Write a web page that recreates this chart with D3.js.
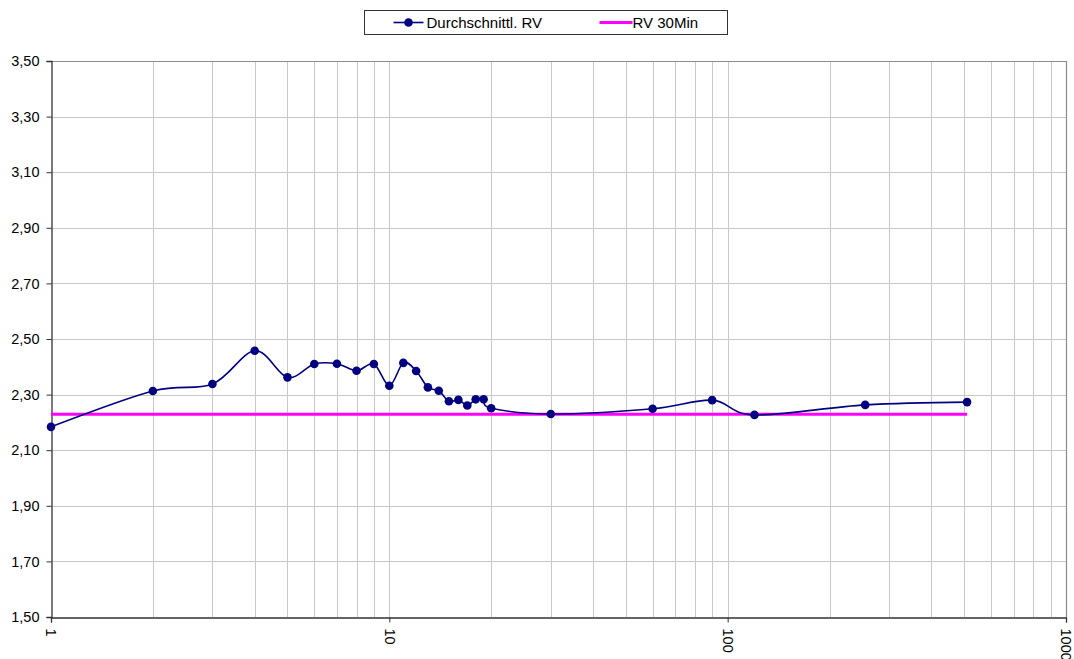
<!DOCTYPE html>
<html>
<head>
<meta charset="utf-8">
<script src="https://cdn.jsdelivr.net/npm/d3@7"></script>
<style>
  html, body { margin: 0; padding: 0; background: #fff; }
  svg { display: block; font-family: "Liberation Sans", Arial, sans-serif; }
</style>
</head>
<body>
<div id="chart"></div>
<script>
// x values (minutes, log axis) and average RV
const xValues = [1, 2, 3, 4, 5, 6, 7, 8, 9, 10, 11, 12, 13, 14, 15, 16, 17, 18, 19, 20, 30, 60, 90, 120, 255, 510];
const rvAvg = [2.184, 2.313, 2.338, 2.458, 2.362, 2.410, 2.411, 2.386, 2.410, 2.332, 2.414, 2.385, 2.326, 2.314,
               2.276, 2.281, 2.261, 2.283, 2.283, 2.251, 2.230, 2.249, 2.280, 2.227, 2.263, 2.273];
const rv30Min = 2.229;
const yTicks = [1.5, 1.7, 1.9, 2.1, 2.3, 2.5, 2.7, 2.9, 3.1, 3.3, 3.5];
const xTicks = [1, 10, 100, 1000];
const seriesNames = ["Durchschnittl. RV", "RV 30Min"];

const W = 1074, H = 659;
const margin = { top: 61, left: 51 };

const svg = d3.select("#chart").append("svg")
  .attr("width", W).attr("height", H);

const g = svg.append("g").attr("transform", `translate(${margin.left},${margin.top})`);

const x = d3.scaleLog().domain([1, 1000]).range([0, 1015]);
const y = d3.scaleLinear().domain([1.5, 3.5]).range([556, 0]);

/* Gridlines */
const minor = [];
for (let d = 1; d < 1000; d *= 10) for (let k = 1; k <= 9; k++) if (d * k > 1) minor.push(d * k);
g.append("g").selectAll("line").data(minor).enter().append("line")
  .attr("x1", d => Math.round(x(d)) + 0.5).attr("x2", d => Math.round(x(d)) + 0.5)
  .attr("y1", 0).attr("y2", y(1.5))
  .attr("stroke", "#c8c8c8").attr("stroke-width", 1);
g.append("g").selectAll("line").data(yTicks.slice(1, -1)).enter().append("line")
  .attr("x1", 0).attr("x2", x(1000))
  .attr("y1", d => Math.round(y(d)) + 0.5).attr("y2", d => Math.round(y(d)) + 0.5)
  .attr("stroke", "#c8c8c8").attr("stroke-width", 1);

/* Plot border top/right */
g.append("line").attr("x1", 0).attr("x2", x(1000)).attr("y1", 0.5).attr("y2", 0.5)
  .attr("stroke", "#8c8c8c").attr("stroke-width", 1.2);
g.append("line").attr("x1", Math.round(x(1000)) + 0.5).attr("x2", Math.round(x(1000)) + 0.5)
  .attr("y1", 0).attr("y2", y(1.5))
  .attr("stroke", "#8c8c8c").attr("stroke-width", 1.2);

/* Axes */
const yAxis = g.append("g").attr("transform", "translate(0.5,0)")
  .call(d3.axisLeft(y).tickValues(yTicks).tickSize(5).tickPadding(7)
    .tickFormat(d => d3.format(".2f")(d).replace(".", ",")));
yAxis.select(".domain").attr("stroke", "#333").attr("stroke-width", 1.3);
yAxis.selectAll(".tick line").attr("stroke", "#333");
yAxis.selectAll("text").style("font-size", "14.5px").style("fill", "#000")
  .attr("font-family", "'Liberation Sans', Arial, sans-serif");

const xAxis = g.append("g").attr("transform", `translate(0,${y(1.5) + 0.5})`)
  .call(d3.axisBottom(x).tickValues(xTicks).tickSize(5).tickFormat(d3.format("d")));
xAxis.select(".domain").attr("stroke", "#333").attr("stroke-width", 1.3);
xAxis.selectAll(".tick line").attr("stroke", "#333");
xAxis.selectAll("text")
  .attr("y", 0).attr("dy", "0.35em")
  .attr("transform", "translate(0,11) rotate(90)")
  .attr("text-anchor", "start")
  .attr("font-family", "'Liberation Sans', Arial, sans-serif")
  .style("font-size", "14.5px").style("fill", "#000");

/* RV 30Min reference line */
g.append("line")
  .attr("x1", x(xValues[0])).attr("x2", x(xValues[xValues.length - 1]))
  .attr("y1", y(rv30Min)).attr("y2", y(rv30Min))
  .attr("stroke", "#ff00ff").attr("stroke-width", 3);

/* Average RV smoothed line */
const data = xValues.map((v, i) => ({ x: v, y: rvAvg[i] }));
const line = d3.line().x(d => x(d.x)).y(d => y(d.y)).curve(d3.curveCatmullRom.alpha(0));
g.append("path").datum(data)
  .attr("fill", "none").attr("stroke", "#000080").attr("stroke-width", 1.6)
  .attr("d", line);
g.append("g").selectAll("circle").data(data).enter().append("circle")
  .attr("cx", d => x(d.x)).attr("cy", d => y(d.y))
  .attr("r", 4.3).attr("fill", "#000080");

/* Legend */
const legend = svg.append("g").attr("transform", "translate(364.5,10.5)");
legend.append("rect").attr("width", 363).attr("height", 24)
  .attr("fill", "#fff").attr("stroke", "#333").attr("stroke-width", 1);
legend.append("line").attr("x1", 29).attr("x2", 59).attr("y1", 12).attr("y2", 12)
  .attr("stroke", "#000080").attr("stroke-width", 1.6);
legend.append("circle").attr("cx", 44).attr("cy", 12).attr("r", 4.3).attr("fill", "#000080");
legend.append("text").attr("x", 62).attr("y", 17.5).style("font-size", "15px").text(seriesNames[0]);
legend.append("line").attr("x1", 235).attr("x2", 268).attr("y1", 12).attr("y2", 12)
  .attr("stroke", "#ff00ff").attr("stroke-width", 3);
legend.append("text").attr("x", 268).attr("y", 17.5).style("font-size", "15px").text(seriesNames[1]);
</script>
</body>
</html>
